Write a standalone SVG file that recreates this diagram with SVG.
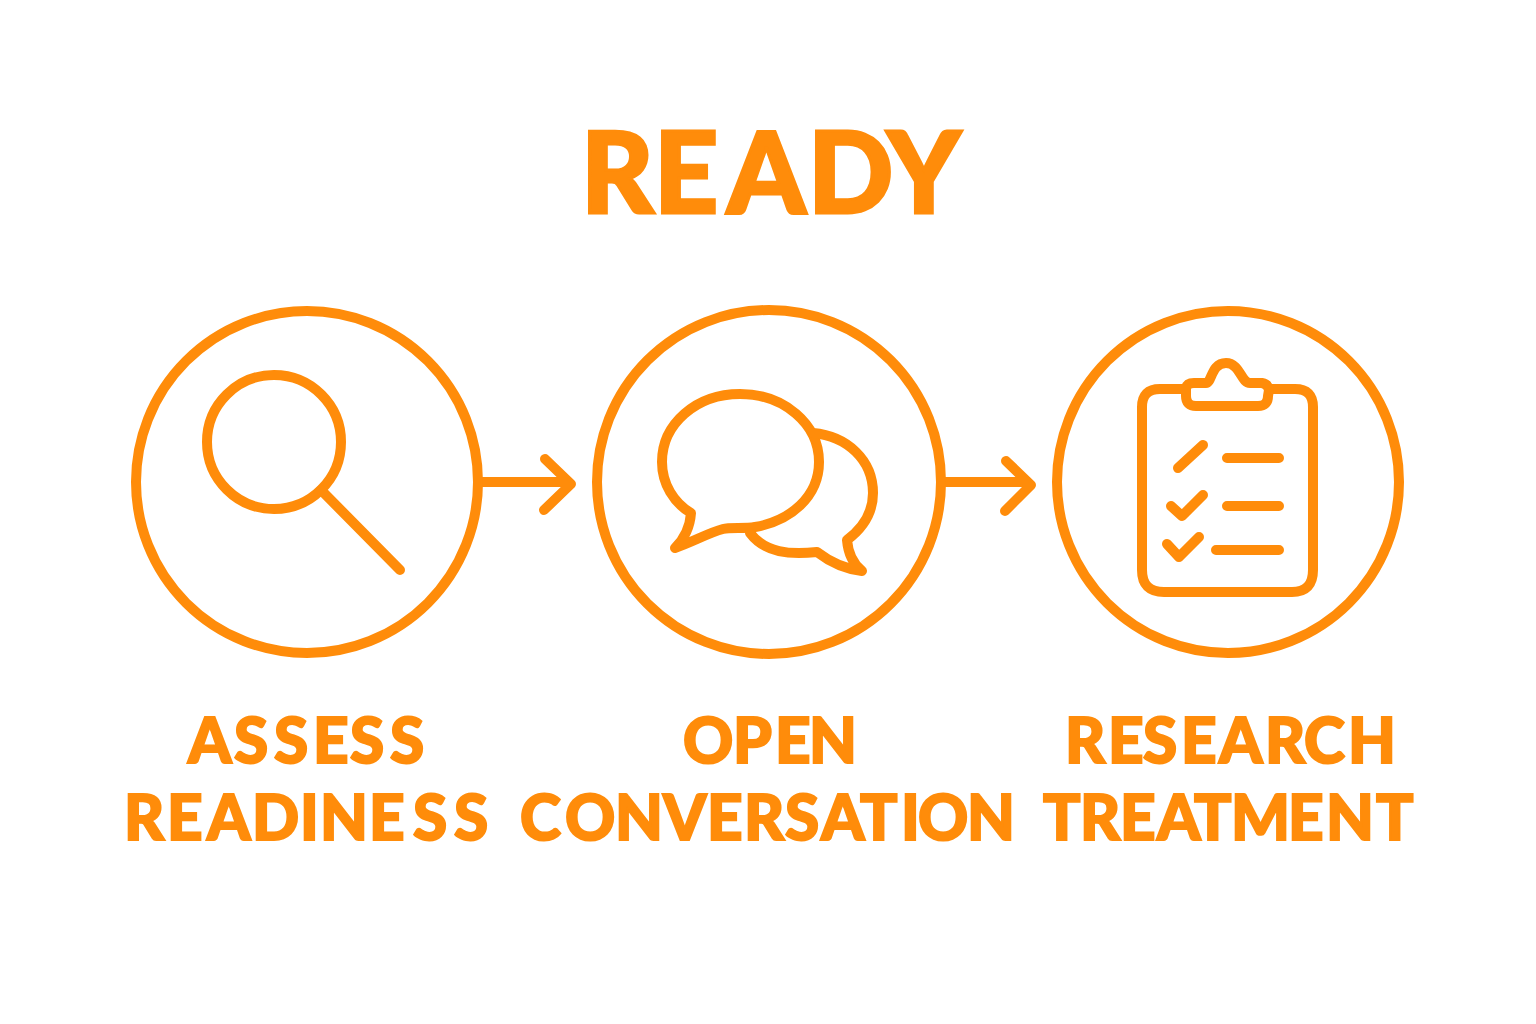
<svg xmlns="http://www.w3.org/2000/svg" width="1536" height="1024" viewBox="0 0 1536 1024">
<defs><style>
.s{fill:none;stroke:#ff8c0a;stroke-width:10;stroke-linecap:round;stroke-linejoin:round}
.t{fill:#ff8c0a;stroke:#ff8c0a;font-family:Lato,"Liberation Sans",sans-serif;font-weight:900;text-anchor:start;font-kerning:none}
.l{font-size:62px;stroke-width:2px}
.h{font-size:112px;stroke-width:3px}
</style></defs>
<rect width="1536" height="1024" fill="#fff"/>
<text id="title" class="t h" x="581 654 727 808 887" y="212.5">READY</text>
<g id="connectors">
<path class="s" d="M482 482H566M545 459L571 484L544 510"/>
<path class="s" d="M944 482H1026M1006 461L1031 485L1005 511"/>
</g>
<g id="node-assess">
<circle class="s" cx="307" cy="482" r="171"/>
<circle class="s" cx="274" cy="442" r="67"/>
<path class="s" d="M321 490L400 570"/>
<text class="t l" x="188 234 274 313 350 390" y="763">ASSESS</text>
<text class="t l" x="124 167 207 252 300 320 369 413 454" y="840">READINESS</text>
</g>
<g id="node-open">
<circle class="s" cx="769" cy="482" r="172"/>
<path class="s" d="M740 394C696 394 662 424 662 462C662 484 674 503 691 513C690 527 684 539 675 548C695 541 708 533 723 529C730 527 745 529 755 527C790 521 819 497 819 462C819 424 784 394 740 394Z"/>
<path class="s" d="M813 433C847 436 873 460 873 493C873 512 863 528 847 540C848 552 852 563 862 571C845 569 830 562 817 552C790 555 765 553 750 533"/>
<text class="t l" x="683 733 775 809" y="763">OPEN</text>
<text class="t l" x="520 565 615 663 707 744 785 821 860 901 918 967" y="840">CONVERSATION</text>
</g>
<g id="node-research">
<circle class="s" cx="1228" cy="482" r="171"/>
<path class="s" d="M1185 389H1160Q1142 389 1142 407V570Q1142 592 1164 592H1292Q1313 592 1313 570V407Q1313 389 1295 389H1271"/>
<path class="s" d="M1186 388Q1187 383 1194 383H1206C1212 383 1211 363 1226 363C1240 363 1241 383 1250 383H1262Q1268 384 1269 390L1268 396Q1268 406 1258 406H1196Q1186 406 1186 396Z"/>
<path class="s" d="M1178 468L1203 445M1227 458H1279M1171 506L1182 516L1203 495M1227 506H1279M1167 544L1179 557L1199 537M1216 550H1279"/>
<text class="t l" x="1065 1108 1143 1181 1219 1265 1304 1348" y="763">RESEARCH</text>
<text class="t l" x="1043 1080 1120 1157 1194 1231 1288 1326 1376" y="840">TREATMENT</text>
</g>
</svg>
